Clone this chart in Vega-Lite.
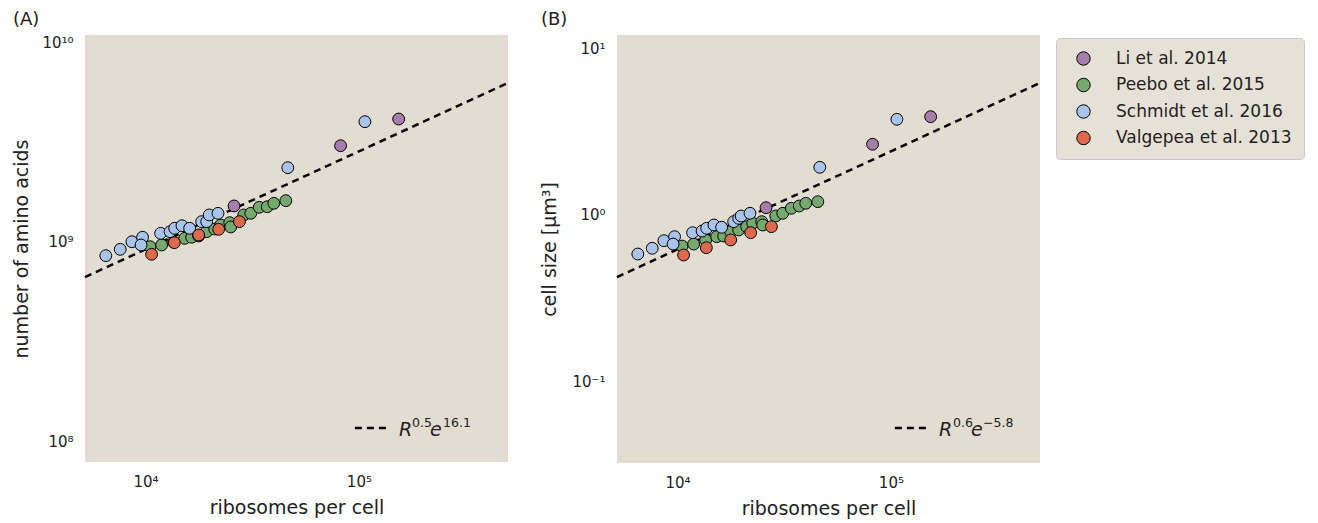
{
  "$schema": "https://vega.github.io/schema/vega-lite/v6.json",
  "background": "white",
  "padding": {"left": 12, "top": 11, "right": 5, "bottom": 5},
  "bounds": "flush",
  "spacing": 109,
  "config": {
    "font": "DejaVu Sans",
    "view": {"fill": "#E3DCD0", "stroke": null},
    "axis": {"grid": false, "ticks": false, "domain": false, "labelFontSize": 15, "labelColor": "#222222", "titleFontSize": 19, "titleFontWeight": "normal", "titleColor": "#222222", "labelPadding": 12},
    "axisX": {"labelPadding": 12, "titlePadding": 9},
    "title": {"fontSize": 18, "fontWeight": "normal", "anchor": "start", "frame": "bounds", "offset": 6, "color": "#222222"},
    "legend": {"orient": "none", "legendX": 971, "legendY": 3, "padding": 12, "fillColor": "#E6E1D7", "strokeColor": "#C9C9C9", "cornerRadius": 4, "labelFontSize": 17, "labelLimit": 300, "labelColor": "#222222", "symbolSize": 180, "symbolStrokeColor": "black", "symbolStrokeWidth": 1, "rowPadding": 7.5, "symbolOffset": 7, "labelOffset": 24, "symbolType": "circle", "symbolOpacity": 1}
  },
  "datasets": {
    "points": [
      {"source": "Li et al. 2014", "ribosomes": 25980, "amino_acids": 1.514e9, "volume": 1.106},
      {"source": "Li et al. 2014", "ribosomes": 82050, "amino_acids": 3.03e9, "volume": 2.66},
      {"source": "Li et al. 2014", "ribosomes": 153600, "amino_acids": 4.12e9, "volume": 3.894},
      {"source": "Peebo et al. 2015", "ribosomes": 10500, "amino_acids": 9.47e8, "volume": 0.651},
      {"source": "Peebo et al. 2015", "ribosomes": 11890, "amino_acids": 9.66e8, "volume": 0.669},
      {"source": "Peebo et al. 2015", "ribosomes": 13540, "amino_acids": 1.0e9, "volume": 0.708},
      {"source": "Peebo et al. 2015", "ribosomes": 15250, "amino_acids": 1.043e9, "volume": 0.741},
      {"source": "Peebo et al. 2015", "ribosomes": 16440, "amino_acids": 1.056e9, "volume": 0.748},
      {"source": "Peebo et al. 2015", "ribosomes": 17740, "amino_acids": 1.072e9, "volume": 0.794},
      {"source": "Peebo et al. 2015", "ribosomes": 19340, "amino_acids": 1.126e9, "volume": 0.813},
      {"source": "Peebo et al. 2015", "ribosomes": 21090, "amino_acids": 1.161e9, "volume": 0.851},
      {"source": "Peebo et al. 2015", "ribosomes": 22500, "amino_acids": 1.216e9, "volume": 0.892},
      {"source": "Peebo et al. 2015", "ribosomes": 24800, "amino_acids": 1.249e9, "volume": 0.912},
      {"source": "Peebo et al. 2015", "ribosomes": 25070, "amino_acids": 1.189e9, "volume": 0.871},
      {"source": "Peebo et al. 2015", "ribosomes": 28850, "amino_acids": 1.365e9, "volume": 0.986},
      {"source": "Peebo et al. 2015", "ribosomes": 31120, "amino_acids": 1.391e9, "volume": 1.024},
      {"source": "Peebo et al. 2015", "ribosomes": 34120, "amino_acids": 1.491e9, "volume": 1.097},
      {"source": "Peebo et al. 2015", "ribosomes": 37190, "amino_acids": 1.501e9, "volume": 1.133},
      {"source": "Peebo et al. 2015", "ribosomes": 39900, "amino_acids": 1.561e9, "volume": 1.176},
      {"source": "Peebo et al. 2015", "ribosomes": 45430, "amino_acids": 1.609e9, "volume": 1.202},
      {"source": "Schmidt et al. 2016", "ribosomes": 6510, "amino_acids": 8.54e8, "volume": 0.583},
      {"source": "Schmidt et al. 2016", "ribosomes": 7605, "amino_acids": 9.19e8, "volume": 0.631},
      {"source": "Schmidt et al. 2016", "ribosomes": 8626, "amino_acids": 1.003e9, "volume": 0.701},
      {"source": "Schmidt et al. 2016", "ribosomes": 9680, "amino_acids": 1.056e9, "volume": 0.741},
      {"source": "Schmidt et al. 2016", "ribosomes": 9525, "amino_acids": 9.66e8, "volume": 0.669},
      {"source": "Schmidt et al. 2016", "ribosomes": 11760, "amino_acids": 1.105e9, "volume": 0.783},
      {"source": "Schmidt et al. 2016", "ribosomes": 13030, "amino_acids": 1.126e9, "volume": 0.801},
      {"source": "Schmidt et al. 2016", "ribosomes": 13690, "amino_acids": 1.171e9, "volume": 0.832},
      {"source": "Schmidt et al. 2016", "ribosomes": 14810, "amino_acids": 1.206e9, "volume": 0.871},
      {"source": "Schmidt et al. 2016", "ribosomes": 16090, "amino_acids": 1.171e9, "volume": 0.844},
      {"source": "Schmidt et al. 2016", "ribosomes": 18320, "amino_acids": 1.264e9, "volume": 0.912},
      {"source": "Schmidt et al. 2016", "ribosomes": 19340, "amino_acids": 1.264e9, "volume": 0.955},
      {"source": "Schmidt et al. 2016", "ribosomes": 19870, "amino_acids": 1.365e9, "volume": 0.986},
      {"source": "Schmidt et al. 2016", "ribosomes": 21850, "amino_acids": 1.391e9, "volume": 1.024},
      {"source": "Schmidt et al. 2016", "ribosomes": 46420, "amino_acids": 2.353e9, "volume": 1.934},
      {"source": "Schmidt et al. 2016", "ribosomes": 106700, "amino_acids": 3.995e9, "volume": 3.757},
      {"source": "Valgepea et al. 2013", "ribosomes": 10670, "amino_acids": 8.68e8, "volume": 0.575},
      {"source": "Valgepea et al. 2013", "ribosomes": 13640, "amino_acids": 9.92e8, "volume": 0.636},
      {"source": "Valgepea et al. 2013", "ribosomes": 17740, "amino_acids": 1.084e9, "volume": 0.708},
      {"source": "Valgepea et al. 2013", "ribosomes": 22010, "amino_acids": 1.157e9, "volume": 0.783},
      {"source": "Valgepea et al. 2013", "ribosomes": 27540, "amino_acids": 1.264e9, "volume": 0.851}
    ],
    "fitA": [
      {"ribosomes": 5200, "amino_acids": 6.68e8},
      {"ribosomes": 500000, "amino_acids": 6.24e9}
    ],
    "fitB": [
      {"ribosomes": 5200, "volume": 0.424},
      {"ribosomes": 500000, "volume": 6.21}
    ],
    "keyLineA": [
      {"ribosomes": 95760, "amino_acids": 1.175e8},
      {"ribosomes": 139800, "amino_acids": 1.175e8}
    ],
    "keyLineB": [
      {"ribosomes": 104400, "volume": 0.05256},
      {"ribosomes": 154100, "volume": 0.05256}
    ],
    "keyTextA": [
      {"ribosomes": 154100, "amino_acids": 1.072e8, "label": "R", "part": "base"},
      {"ribosomes": 177400, "amino_acids": 1.189e8, "label": "0.5", "part": "exponent"},
      {"ribosomes": 215400, "amino_acids": 1.072e8, "label": "e", "part": "base"},
      {"ribosomes": 248000, "amino_acids": 1.189e8, "label": "16.1", "part": "exponent"}
    ],
    "keyTextB": [
      {"ribosomes": 168100, "volume": 0.04707, "label": "R", "part": "base"},
      {"ribosomes": 195500, "volume": 0.05329, "label": "0.6", "part": "exponent"},
      {"ribosomes": 237500, "volume": 0.04707, "label": "e", "part": "base"},
      {"ribosomes": 270300, "volume": 0.05329, "label": "−5.8", "part": "exponent"}
    ]
  },
  "hconcat": [
    {
      "title": "(A)",
      "width": 423,
      "height": 427,
      "encoding": {
        "x": {"field": "ribosomes", "type": "quantitative", "scale": {"type": "log", "domain": [5200, 500000], "nice": false}, "axis": {"title": "ribosomes per cell", "values": [10000, 100000], "labelExpr": "datum.value == 10000 ? '10⁴' : '10⁵'"}},
        "y": {"field": "amino_acids", "type": "quantitative", "scale": {"type": "log", "domain": [7.94e7, 1.084e10], "nice": false}, "axis": {"title": "number of amino acids", "values": [1e8, 1e9, 1e10], "labelExpr": "datum.value == 1e8 ? '10⁸' : datum.value == 1e9 ? '10⁹' : '10¹⁰'", "titlePadding": 10}}
      },
      "layer": [
        {"data": {"name": "fitA"}, "mark": {"type": "line", "color": "black", "strokeDash": [7, 5], "strokeWidth": 2.5}},
        {"data": {"name": "points"}, "mark": {"type": "point", "shape": "circle", "filled": true, "size": 140, "stroke": "black", "strokeWidth": 1, "opacity": 1},
         "encoding": {"color": {"field": "source", "type": "nominal", "scale": {"domain": ["Li et al. 2014", "Peebo et al. 2015", "Schmidt et al. 2016", "Valgepea et al. 2013"], "range": ["#A67EAB", "#75A96D", "#A9C4EA", "#DC6A4D"]}, "legend": {"title": null}}}},
        {"data": {"name": "keyLineA"}, "mark": {"type": "line", "color": "black", "strokeDash": [7, 5], "strokeWidth": 2.5}},
        {"data": {"name": "keyTextA"}, "transform": [{"filter": "datum.part == 'base'"}], "mark": {"type": "text", "align": "left", "baseline": "alphabetic", "fontSize": 19, "fontStyle": "italic", "color": "#222222"}, "encoding": {"text": {"field": "label"}}},
        {"data": {"name": "keyTextA"}, "transform": [{"filter": "datum.part == 'exponent'"}], "mark": {"type": "text", "align": "left", "baseline": "alphabetic", "fontSize": 12.5, "color": "#222222"}, "encoding": {"text": {"field": "label"}}}
      ]
    },
    {
      "title": "(B)",
      "width": 423,
      "height": 428,
      "encoding": {
        "x": {"field": "ribosomes", "type": "quantitative", "scale": {"type": "log", "domain": [5200, 500000], "nice": false}, "axis": {"title": "ribosomes per cell", "values": [10000, 100000], "labelExpr": "datum.value == 10000 ? '10⁴' : '10⁵'"}},
        "y": {"field": "volume", "type": "quantitative", "scale": {"type": "log", "domain": [0.0324, 12.05], "nice": false}, "axis": {"title": "cell size  [µm³]", "values": [0.1, 1, 10], "labelExpr": "datum.value == 0.1 ? '10⁻¹' : datum.value == 1 ? '10⁰' : '10¹'", "titlePadding": 12}}
      },
      "layer": [
        {"data": {"name": "fitB"}, "mark": {"type": "line", "color": "black", "strokeDash": [7, 5], "strokeWidth": 2.5}},
        {"data": {"name": "points"}, "mark": {"type": "point", "shape": "circle", "filled": true, "size": 140, "stroke": "black", "strokeWidth": 1, "opacity": 1},
         "encoding": {"color": {"field": "source", "type": "nominal", "scale": {"domain": ["Li et al. 2014", "Peebo et al. 2015", "Schmidt et al. 2016", "Valgepea et al. 2013"], "range": ["#A67EAB", "#75A96D", "#A9C4EA", "#DC6A4D"]}, "legend": {"title": null}}}},
        {"data": {"name": "keyLineB"}, "mark": {"type": "line", "color": "black", "strokeDash": [7, 5], "strokeWidth": 2.5}},
        {"data": {"name": "keyTextB"}, "transform": [{"filter": "datum.part == 'base'"}], "mark": {"type": "text", "align": "left", "baseline": "alphabetic", "fontSize": 19, "fontStyle": "italic", "color": "#222222"}, "encoding": {"text": {"field": "label"}}},
        {"data": {"name": "keyTextB"}, "transform": [{"filter": "datum.part == 'exponent'"}], "mark": {"type": "text", "align": "left", "baseline": "alphabetic", "fontSize": 12.5, "color": "#222222"}, "encoding": {"text": {"field": "label"}}}
      ]
    }
  ]
}
